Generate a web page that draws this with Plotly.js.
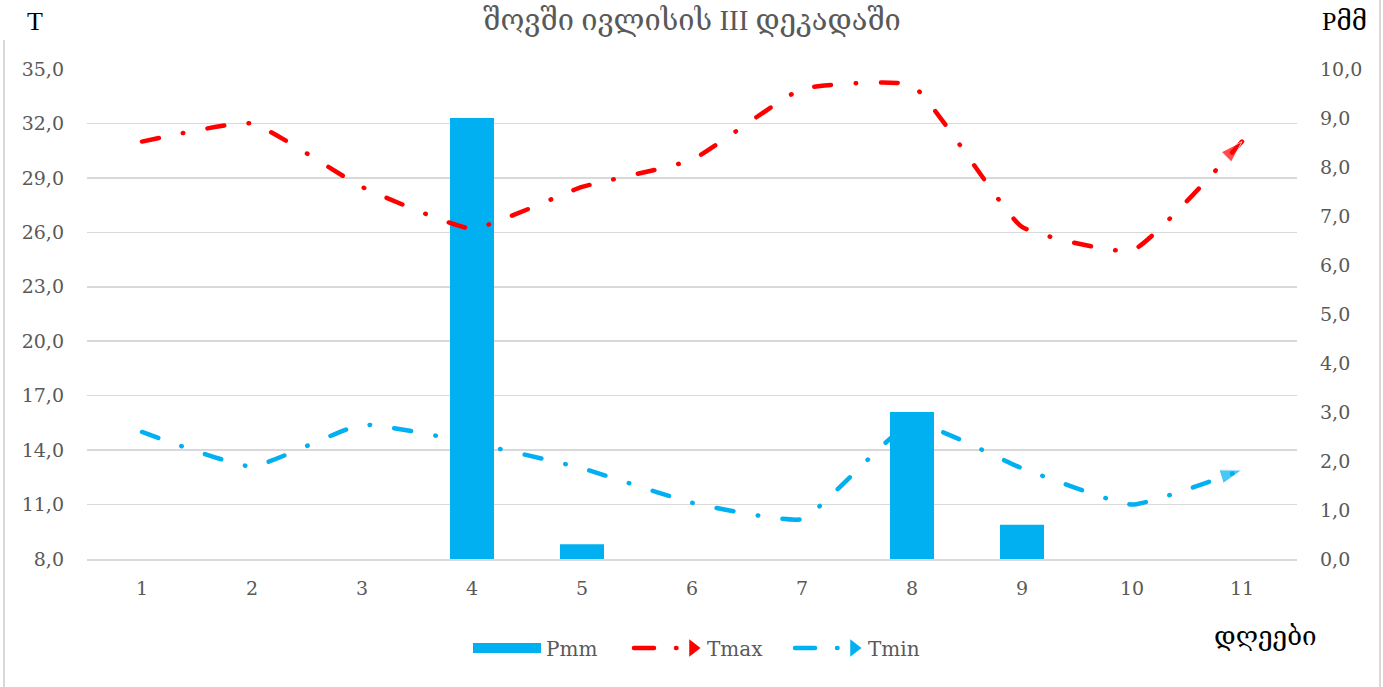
<!DOCTYPE html>
<html>
<head>
<meta charset="utf-8">
<script src="https://cdn.plot.ly/plotly-3.0.1.min.js"></script>
<style>
  html, body { margin: 0; padding: 0; background: #ffffff; }
  #wrap { position: relative; width: 1383px; height: 687px; overflow: hidden; }
  #chart { position: absolute; left: 0; top: 0; width: 1383px; height: 687px; }
  .bl { position: absolute; left: 3px; top: 40px; width: 2px; height: 647px; background: #d9d9d9; }
  .br { position: absolute; left: 1379px; top: 0px; width: 2px; height: 687px; background: #d9d9d9; }
  .js-line[style*="4.5px"] { stroke-linecap: round; }
  .legend .scatterpts { transform: translate(64px, 0px); }
</style>
</head>
<body>
<div id="wrap">
  <div id="chart"></div>
  <div class="bl"></div>
  <div class="br"></div>
</div>
<script>
// ---- data ----
const days = [1, 2, 3, 4, 5, 6, 7, 8, 9, 10, 11];
const dayLabels = ["1", "2", "3", "4", "5", "6", "7", "8", "9", "10", "11"];
const pmm  = [0, 0, 0, 9.0, 0.3, 0, 0, 3.0, 0.7, 0, 0];
const tmax = [31.0, 32.0, 28.5, 26.2, 28.5, 30.0, 33.9, 34.1, 26.3, 25.0, 31.0];
const tmin = [15.0, 13.1, 15.4, 14.4, 13.0, 11.1, 10.2, 15.5, 13.0, 11.0, 12.9];
const seriesNames = ["Pmm", "Tmax", "Tmin"];
const titleText = "შოვში ივლისის III დეკადაში";
const leftTitle = "T";
const rightTitle = "Pმმ";
const xTitle = "დღეები";

const RED = "#ff0000";
const BLUE = "#00b0f0";
const DASH = "17px,24.5px,0.5px,24.5px";
const LEG_DASH = "20px,22px,0.5px,100px";
const FONT = "Liberation Serif, DejaVu Serif, serif";
const NUMFONT = "DejaVu Serif, serif";
const SMOOTH = 0.4;
const n = days.length;

const traces = [
  { // Tmin line (under bars)
    x: days, y: tmin, type: "scatter", mode: "lines", yaxis: "y",
    line: { color: BLUE, width: 4.5, dash: DASH, shape: "spline", smoothing: SMOOTH },
    showlegend: false
  },
  { // Pmm bars
    x: days, y: pmm, type: "bar", yaxis: "y2", name: seriesNames[0],
    marker: { color: BLUE }, width: 0.4, showlegend: false
  },
  { // Tmax line (over bars)
    x: days, y: tmax, type: "scatter", mode: "lines", yaxis: "y3",
    line: { color: RED, width: 4.5, dash: DASH, shape: "spline", smoothing: SMOOTH },
    showlegend: false
  },
  { // Tmin arrow head
    x: days.slice(n - 2), y: tmin.slice(n - 2), type: "scatter", mode: "markers", yaxis: "y",
    marker: { symbol: "arrow", angleref: "previous", size: [0, 23], color: BLUE },
    showlegend: false
  },
  { // Tmax arrow head
    x: days.slice(n - 2), y: tmax.slice(n - 2), type: "scatter", mode: "markers", yaxis: "y3",
    marker: { symbol: "arrow", angleref: "previous", size: [0, 23], color: RED },
    showlegend: false
  },
  { // legend entries
    x: [null], y: [null], type: "scatter", mode: "lines", name: seriesNames[0], yaxis: "y",
    line: { color: BLUE, width: 14 }
  },
  {
    x: [null], y: [null], type: "scatter", mode: "lines+markers", name: seriesNames[1], yaxis: "y",
    line: { color: RED, width: 4.5, dash: LEG_DASH },
    marker: { symbol: "triangle-right", size: 15, color: RED }
  },
  {
    x: [null], y: [null], type: "scatter", mode: "lines+markers", name: seriesNames[2], yaxis: "y",
    line: { color: BLUE, width: 4.5, dash: LEG_DASH },
    marker: { symbol: "triangle-right", size: 15, color: BLUE }
  }
];

const tickFont = { family: NUMFONT, size: 19, color: "#595959" };

const layout = {
  width: 1383, height: 687,
  margin: { l: 87, r: 86, t: 69, b: 128 },
  paper_bgcolor: "#ffffff", plot_bgcolor: "#ffffff",
  separators: ", ",
  barmode: "overlay",
  title: {
    text: titleText, x: 0.5, xref: "paper", xanchor: "center",
    y: 1 - 20 / 687, yref: "container", yanchor: "middle",
    font: { family: FONT, size: 29, color: "#595959" }
  },
  xaxis: {
    range: [0.5, 11.5], tickvals: days, ticktext: dayLabels,
    showgrid: false, zeroline: false, showline: true, linecolor: "#d9d9d9", linewidth: 1.5,
    ticks: "", tickfont: tickFont, ticklabelstandoff: 12, fixedrange: true
  },
  yaxis: {
    range: [8, 35], tick0: 8, dtick: 3, tickformat: ".1f",
    showgrid: true, gridcolor: "#d9d9d9", gridwidth: 1.5, zeroline: false,
    ticks: "", tickfont: tickFont, ticklabelstandoff: 22, fixedrange: true
  },
  yaxis2: {
    range: [0, 10], tick0: 0, dtick: 1, tickformat: ".1f", overlaying: "y", side: "right",
    showgrid: false, zeroline: false, ticks: "", tickfont: tickFont, ticklabelstandoff: 22, fixedrange: true
  },
  yaxis3: {
    range: [8, 35], overlaying: "y", visible: false, fixedrange: true
  },
  legend: {
    orientation: "h", x: (468 - 87) / 1210, xanchor: "left", y: (559 - 648) / 490, yanchor: "middle",
    font: { family: NUMFONT, size: 20, color: "#595959" }, traceorder: "normal",
    itemwidth: 68, entrywidth: 78, entrywidthmode: "pixels"
  },
  annotations: [
    { text: leftTitle, xref: "paper", yref: "paper", x: -52 / 1210, y: 1 + 47 / 490, xanchor: "center", yanchor: "middle",
      showarrow: false, font: { family: FONT, size: 26, color: "#000000" } },
    { text: rightTitle, xref: "paper", yref: "paper", x: 1 + 47 / 1210, y: 1 + 47 / 490, xanchor: "center", yanchor: "middle",
      showarrow: false, font: { family: FONT, size: 26, color: "#000000" } },
    { text: xTitle, xref: "paper", yref: "paper", x: (1265 - 87) / 1210, y: (559 - 636) / 490, xanchor: "center", yanchor: "middle",
      showarrow: false, font: { family: FONT, size: 26, color: "#000000" } }
  ],
  showlegend: true
};

Plotly.newPlot("chart", traces, layout, { displayModeBar: false, staticPlot: true });
</script>
</body>
</html>
